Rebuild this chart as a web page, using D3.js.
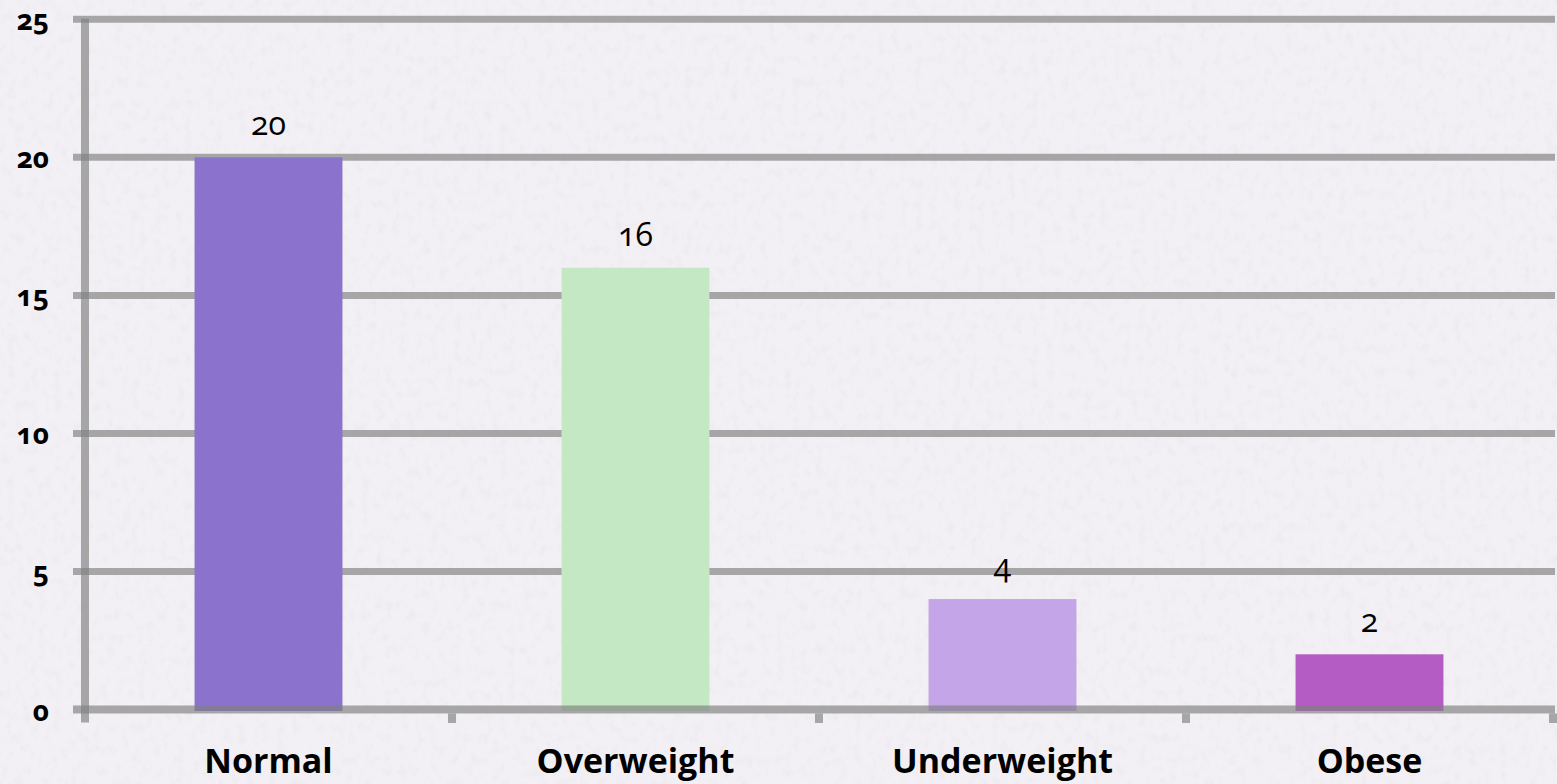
<!DOCTYPE html>
<html>
<head>
<meta charset="utf-8">
<script src="https://cdn.jsdelivr.net/npm/d3@7"></script>
<style>
  html, body { margin: 0; padding: 0; background: #F1EFF3; }
  svg { display: block; }
  .lab { font-family: "Open Sans", "Lato", sans-serif; font-feature-settings: "onum" 1; font-variant-numeric: oldstyle-nums; }
</style>
</head>
<body>
<svg id="chart" width="1557" height="784"></svg>
<script>
const categories = ["Normal", "Overweight", "Underweight", "Obese"];
const values = [20, 16, 4, 2];
const colors = ["#8B72CD", "#C3E8C3", "#C4A5E7", "#B45CC4"];
const yTicks = [0, 5, 10, 15, 20, 25];

const W = 1557, H = 784;
const svg = d3.select("#chart");

// textured background
const defs = svg.append("defs");
const f = defs.append("filter").attr("id", "tex").attr("x", 0).attr("y", 0).attr("width", 1).attr("height", 1);
f.append("feTurbulence").attr("type", "fractalNoise").attr("baseFrequency", "0.13 0.09").attr("numOctaves", 3).attr("seed", 11).attr("result", "n");
f.append("feColorMatrix").attr("in", "n").attr("type", "matrix")
  .attr("values", "0 0 0 0 0.6  0 0 0 0 0.59  0 0 0 0 0.63  1.6 0 0 0 -0.78");
svg.append("rect").attr("width", W).attr("height", H).attr("fill", "#F2F0F4");
svg.append("rect").attr("width", W).attr("height", H).attr("fill", "#fff").attr("filter", "url(#tex)").attr("opacity", 0.22);

const x = d3.scaleBand().domain(categories).range([85, 1553]).paddingInner(0.597).paddingOuter(0.2985);
const y = d3.scaleLinear().domain([0, 25]).range([709.5, 19.3]);

const lineCol = "#7f7f7f", lineOp = 0.66;

// gridlines (under bars)
svg.append("g").selectAll("line").data(yTicks.filter(d => d > 0)).join("line")
  .attr("x1", 73).attr("x2", 1555)
  .attr("y1", d => y(d)).attr("y2", d => y(d))
  .attr("stroke", lineCol).attr("stroke-opacity", lineOp).attr("stroke-width", 7);

// y axis vertical line
svg.append("line").attr("x1", 85).attr("x2", 85).attr("y1", y(25) - 0.5).attr("y2", 722.5)
  .attr("stroke", lineCol).attr("stroke-opacity", lineOp).attr("stroke-width", 8);

// bars
svg.append("g").selectAll("rect").data(categories).join("rect")
  .attr("x", d => x(d)).attr("width", x.bandwidth())
  .attr("y", (d, i) => y(values[i])).attr("height", (d, i) => y(0) - y(values[i]) + 1.5)
  .attr("fill", (d, i) => colors[i]);

// baseline over bars
svg.append("line").attr("x1", 73).attr("x2", 1555).attr("y1", y(0)).attr("y2", y(0))
  .attr("stroke", lineCol).attr("stroke-opacity", lineOp).attr("stroke-width", 8);

// x ticks at band boundaries
const step = x.step();
svg.append("g").selectAll("line").data(categories).join("line")
  .attr("x1", d => x(d) + x.bandwidth() / 2 + step / 2)
  .attr("x2", d => x(d) + x.bandwidth() / 2 + step / 2)
  .attr("y1", y(0) + 4).attr("y2", 723)
  .attr("stroke", lineCol).attr("stroke-opacity", lineOp).attr("stroke-width", 8);

// y labels
svg.append("g").selectAll("text").data(yTicks).join("text")
  .attr("class", "lab")
  .attr("x", 49).attr("y", d => y(d) + 11)
  .attr("text-anchor", "end")
  .attr("font-size", 28).attr("font-weight", 700).attr("fill", "#000")
  .text(d => d);

// value labels
svg.append("g").selectAll("text").data(categories).join("text")
  .attr("class", "lab")
  .attr("x", d => x(d) + x.bandwidth() / 2)
  .attr("y", (d, i) => y(values[i]) - 22)
  .attr("text-anchor", "middle")
  .attr("font-size", 32).attr("font-weight", 400).attr("fill", "#000")
  .text((d, i) => values[i]);

// category labels
svg.append("g").selectAll("text").data(categories).join("text")
  .attr("class", "lab")
  .attr("x", d => x(d) + x.bandwidth() / 2)
  .attr("y", 773)
  .attr("text-anchor", "middle")
  .attr("font-size", 34).attr("font-weight", 700).attr("fill", "#000")
  .text(d => d);
</script>
</body>
</html>
